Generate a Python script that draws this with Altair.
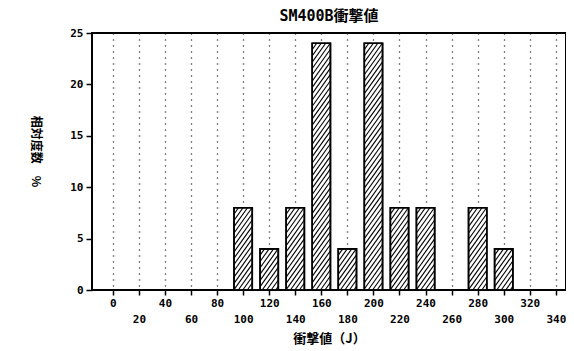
import altair as alt
import pandas as pd

# data
centers = [100, 120, 140, 160, 180, 200, 220, 240, 280, 300]
values = [8, 4, 8, 24, 4, 24, 8, 8, 8, 4]
x_ticks = list(range(0, 341, 20))
y_ticks = [0, 5, 10, 15, 20, 25]

X_MIN, X_MAX = -16, 347.8
Y_MIN, Y_MAX = 0, 25
W, H = 474, 257
HALF = 7.0

bars = pd.DataFrame({"c": centers, "v": values})
bars["x0"] = bars["c"] - HALF
bars["x1"] = bars["c"] + HALF
bars["y0"] = 0

# hatch segments derived from bar data via the scale factors
pxx = W / (X_MAX - X_MIN)
pxy = H / (Y_MAX - Y_MIN)
segs = []
step = 4.5
slope = 1.4  # vertical px per horizontal px
for c, v in zip(centers, values):
    bw = 2 * HALF * pxx
    bh = v * pxy
    left = c - HALF
    k = -bh / slope
    while k < bw:
        if k >= 0:
            u0, v0 = k, 0.0
        else:
            u0, v0 = 0.0, -slope * k
        vend = slope * (bw - k)
        if vend <= bh:
            u1, v1 = bw, vend
        else:
            u1, v1 = k + bh / slope, bh
        if u1 > u0 + 0.3:
            segs.append({"x": left + u0 / pxx, "y": v0 / pxy,
                         "x2": left + u1 / pxx, "y2": v1 / pxy})
        k += step
hatch = pd.DataFrame(segs)

font = "DejaVu Sans Mono"
cjk = "Noto Sans CJK JP"

xscale = alt.Scale(domain=[X_MIN, X_MAX], nice=False, zero=False)
yscale = alt.Scale(domain=[Y_MIN, Y_MAX], nice=False)

xaxis = alt.Axis(
    values=x_ticks, tickCount=40, grid=True, gridDash=[1, 5], gridColor="black",
    gridWidth=1.3, gridOpacity=1, domain=False, ticks=True, tickColor="black",
    tickSize=5, tickWidth=1.5, labelFont=font, labelFontWeight="bold",
    labelFontSize=11, labelColor="black", labelOverlap=False, labelFlush=False,
    labelPadding=2, labelLineHeight=16,
    labelExpr="datum.value % 40 == 0 ? datum.label : ['', datum.label]",
    title="衝撃値（J）", titleFont=cjk, titleFontSize=13, titleFontWeight="bold",
    titleColor="black", titlePadding=1, titleY=42,
)
yaxis = alt.Axis(
    values=y_ticks, tickCount=10, grid=False, domain=False, tickColor="black",
    tickSize=6, tickWidth=1.5, labelFont=font, labelFontWeight="bold",
    labelFontSize=11, labelColor="black", labelPadding=3, labelOverlap=False,
    title="相対度数　%", titleFont=cjk, titleFontSize=12, titleFontWeight="bold",
    titleColor="black", titleAngle=90, titleX=-64, titleY=118,
)

base_bar = alt.Chart(bars).mark_rect(fill="white", stroke="black", strokeWidth=1.6).encode(
    x=alt.X("x0:Q", scale=xscale, axis=xaxis),
    x2="x1:Q",
    y=alt.Y("y0:Q", scale=yscale, axis=yaxis),
    y2="v:Q",
)

hatch_layer = alt.Chart(hatch).mark_rule(color="black", strokeWidth=1.1).encode(
    x=alt.X("x:Q", scale=xscale),
    x2="x2:Q",
    y=alt.Y("y:Q", scale=yscale),
    y2="y2:Q",
)

outline = alt.Chart(bars).mark_rect(fill=None, stroke="black", strokeWidth=1.6).encode(
    x=alt.X("x0:Q", scale=xscale),
    x2="x1:Q",
    y=alt.Y("y0:Q", scale=yscale),
    y2="v:Q",
)

chart = alt.layer(base_bar, hatch_layer, outline).properties(
    width=W, height=H,
    title=alt.TitleParams("SM400B衝撃値", font="DejaVu Sans Mono, Noto Sans CJK JP",
                          fontSize=15, fontWeight="bold", color="black", offset=3),
    autosize=alt.AutoSizeParams(type="none"),
    padding={"left": 84, "top": 25, "right": 0, "bottom": 58},
    background="white",
).configure_view(stroke="black", strokeWidth=2)

chart.save("out.html", embed_options={"renderer": "svg", "actions": False})
